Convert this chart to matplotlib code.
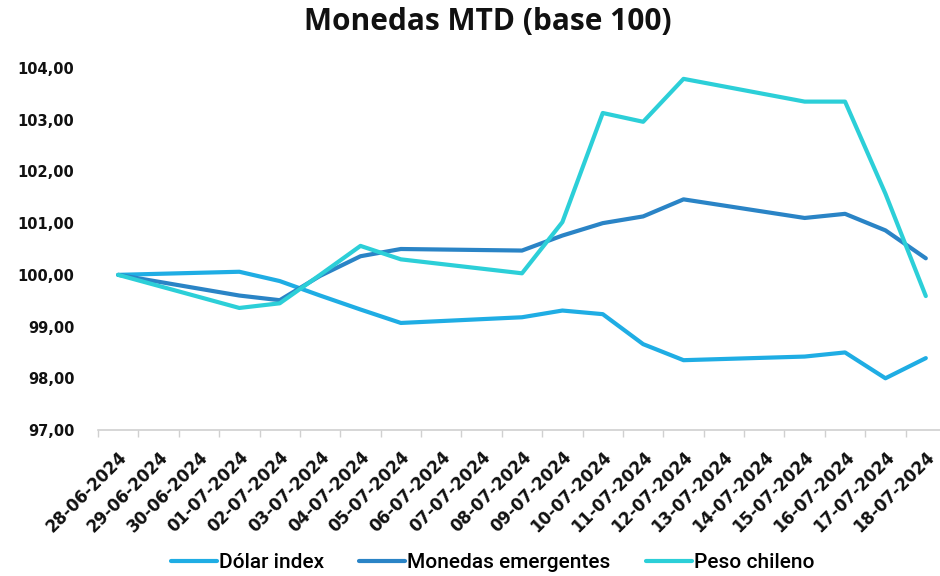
import numpy as np
import matplotlib.pyplot as plt
from matplotlib.ticker import FuncFormatter

fechas = [
    "28-06-2024", "29-06-2024", "30-06-2024", "01-07-2024", "02-07-2024",
    "03-07-2024", "04-07-2024", "05-07-2024", "06-07-2024", "07-07-2024",
    "08-07-2024", "09-07-2024", "10-07-2024", "11-07-2024", "12-07-2024",
    "13-07-2024", "14-07-2024", "15-07-2024", "16-07-2024", "17-07-2024",
    "18-07-2024",
]
nan = np.nan
dolar_index = [100.00, nan, nan, 100.06, 99.88, 99.60, 99.33, 99.07, nan, nan,
               99.18, 99.31, 99.24, 98.66, 98.35, nan, nan, 98.42, 98.50, 98.00,
               98.39]
monedas_emergentes = [100.00, nan, nan, 99.60, 99.51, 99.98, 100.36, 100.50, nan, nan,
                      100.47, 100.76, 101.00, 101.13, 101.46, nan, nan, 101.10, 101.18,
                      100.86, 100.32]
peso_chileno = [100.00, nan, nan, 99.36, 99.45, 100.00, 100.56, 100.30, nan, nan,
                100.03, 101.02, 103.13, 102.96, 103.79, nan, nan, 103.35, 103.35,
                101.57, 99.59]

series = [
    ("Dólar index", dolar_index, "#1fade4"),
    ("Monedas emergentes", monedas_emergentes, "#2a84c6"),
    ("Peso chileno", peso_chileno, "#2ccfd8"),
]

fig = plt.figure(figsize=(9.4, 5.76), dpi=100)
ax = fig.add_axes([98 / 940, (576 - 430) / 576, 848 / 940, (430 - 68) / 576])

x = np.arange(len(fechas))
for nombre, vals, color in series:
    v = np.array(vals, dtype=float)
    m = ~np.isnan(v)
    ax.plot(x[m], v[m], color=color, lw=3, label=nombre, solid_capstyle="round",
            solid_joinstyle="round")

ax.set_xlim(-0.5, len(fechas) - 0.5)
ax.set_ylim(97, 104)
ax.set_yticks(np.arange(97, 105, 1))
ax.yaxis.set_major_formatter(FuncFormatter(lambda v, p: f"{v:.2f}".replace(".", ",")))

ax.set_xticks(x)
ax.set_xticklabels(fechas, rotation=45, ha="right", rotation_mode="anchor")
ax.set_xticks(np.arange(-0.5, len(fechas), 1), minor=True)
ax.tick_params(axis="x", which="major", length=0, pad=13)
ax.tick_params(axis="x", which="minor", length=5, color="#d0d0d0", width=1)
ax.tick_params(axis="y", length=0, pad=17)

for lbl in ax.get_yticklabels():
    lbl.set_fontfamily("DejaVu Sans")
    lbl.set_fontweight("bold")
    lbl.set_fontsize(10.5)
    lbl.set_color("#111111")
for lbl in ax.get_xticklabels():
    lbl.set_fontfamily("DejaVu Sans")
    lbl.set_fontweight("bold")
    lbl.set_fontsize(12)
    lbl.set_color("#111111")

for s in ["top", "right", "left"]:
    ax.spines[s].set_visible(False)
ax.spines["bottom"].set_color("#d0d0d0")
ax.spines["bottom"].set_linewidth(1.2)

fig.text(0.519, 1 - 22 / 576, "Monedas MTD (base 100)", ha="center", va="center",
         fontsize=21.5, fontweight="bold", fontfamily="Open Sans", color="#111111")

fig.legend(loc="center", bbox_to_anchor=(0.524, 1 - 563 / 576), ncol=3, frameon=False,
           prop={"family": "Roboto", "size": 15, "weight": "medium"},
           handlelength=2.2, handletextpad=0.1, columnspacing=1.7)

fig.savefig("out.png", dpi=100)
